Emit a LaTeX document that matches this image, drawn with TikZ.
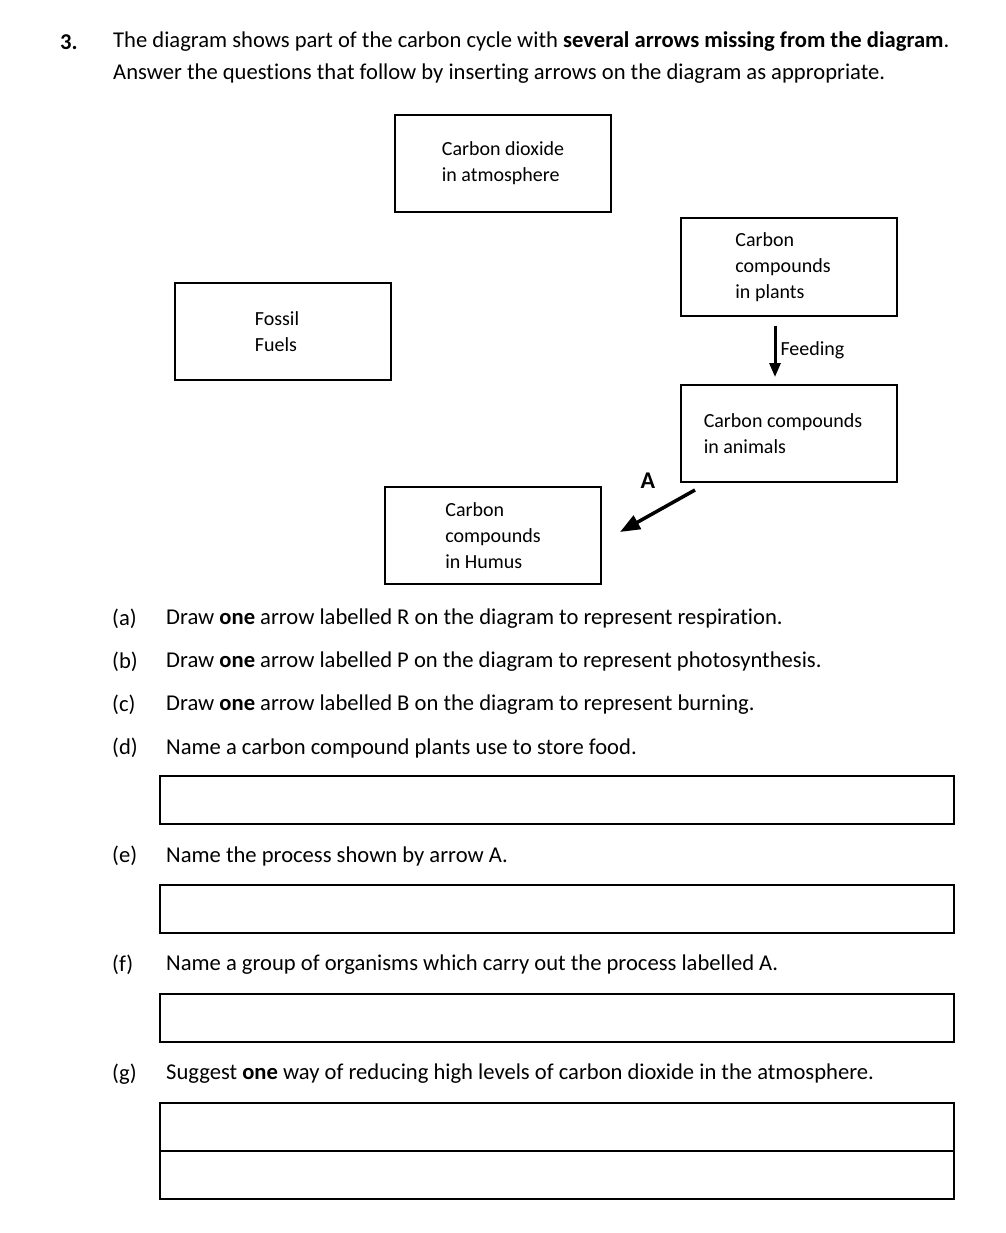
\documentclass[tikz,border=0pt]{standalone}
\usepackage{fontspec}
\setmainfont{Carlito}[Ligatures=NoCommon]
\usetikzlibrary{arrows.meta,positioning}
\begin{document}
\begin{tikzpicture}[x=1pt,y=-1pt,
  font=\fontsize{22.6}{28}\selectfont,
  box/.style={draw,line width=2pt,minimum width=216pt,minimum height=97pt,align=left,inner sep=0pt,font=\fontsize{20}{26}\selectfont},
  ansbox/.style={draw,line width=2pt,minimum width=794pt,minimum height=48pt,inner sep=0pt},
  qtext/.style={anchor=west,inner sep=0pt},
  arr/.style={-{Triangle[length=14pt,width=11pt]},line width=3pt}]
\useasboundingbox (0,0) rectangle (1005,1233);
% heading
\node[qtext,font=\fontsize{22.6}{28}\selectfont\bfseries] (num) at (60,42) {3.};
\node[qtext] (head1) at (113,42) {The diagram shows part of the carbon cycle with \textbf{several arrows missing from the diagram}.};
\node[qtext] (head2) at (113,74) {Answer the questions that follow by inserting arrows on the diagram as appropriate.};
% carbon cycle boxes
\node[box] (air) at (503,163.5) {Carbon dioxide\\in atmosphere};
\node[box] (plants) at (789,267) {\hspace*{-12pt}Carbon\\\hspace*{-12pt}compounds\\\hspace*{-12pt}in plants};
\node[box] (fossil) at (283,331.5) {\hspace*{-12pt}Fossil\\\hspace*{-12pt}Fuels};
\node[box] (animals) at (789,433.5) {\hspace*{-12pt}Carbon compounds\\\hspace*{-12pt}in animals};
\node[box] (humus) at (493,535.5) {Carbon\\compounds\\in Humus};
\draw[arr,shorten <=9pt,shorten >=7pt] ([xshift=-14pt]plants.south) -- node[pos=0.5,right=4pt,inner sep=0pt,font=\fontsize{20}{26}\selectfont] {Feeding} ([xshift=-14pt]animals.north);
\coordinate (Atail) at (695,490);
\coordinate (Ahead) at (620,532);
\draw[arr,line width=3.5pt,-{Triangle[length=20pt,width=15pt]}] (Atail) -- (Ahead);
\node[font=\fontsize{24}{28}\selectfont\bfseries] (Alabel) at (648,481) {A};
% questions
\node[qtext] (qa) at (112,619) {(a)};
\node[qtext] (ta) at (166,619) {Draw \textbf{one} arrow labelled R on the diagram to represent respiration.};
\node[qtext] (qb) at (112,662) {(b)};
\node[qtext] (tb) at (166,662) {Draw \textbf{one} arrow labelled P on the diagram to represent photosynthesis.};
\node[qtext] (qc) at (112,705) {(c)};
\node[qtext] (tc) at (166,705) {Draw \textbf{one} arrow labelled B on the diagram to represent burning.};
\node[qtext] (qd) at (112,748) {(d)};
\node[qtext] (td) at (166,748) {Name a carbon compound plants use to store food.};
\node[ansbox] (ansd) at (557,800) {};
\node[qtext] (qe) at (112,856) {(e)};
\node[qtext] (te) at (166,856) {Name the process shown by arrow A.};
\node[ansbox] (anse) at (557,909) {};
\node[qtext] (qf) at (112,965) {(f)};
\node[qtext] (tf) at (166,965) {Name a group of organisms which carry out the process labelled A.};
\node[ansbox] (ansf) at (557,1018) {};
\node[qtext] (qg) at (112,1074) {(g)};
\node[qtext] (tg) at (166,1074) {Suggest \textbf{one} way of reducing high levels of carbon dioxide in the atmosphere.};
\node[ansbox] (ansg1) at (557,1127) {};
\node[ansbox] (ansg2) at (557,1175) {};
\end{tikzpicture}
\end{document}
